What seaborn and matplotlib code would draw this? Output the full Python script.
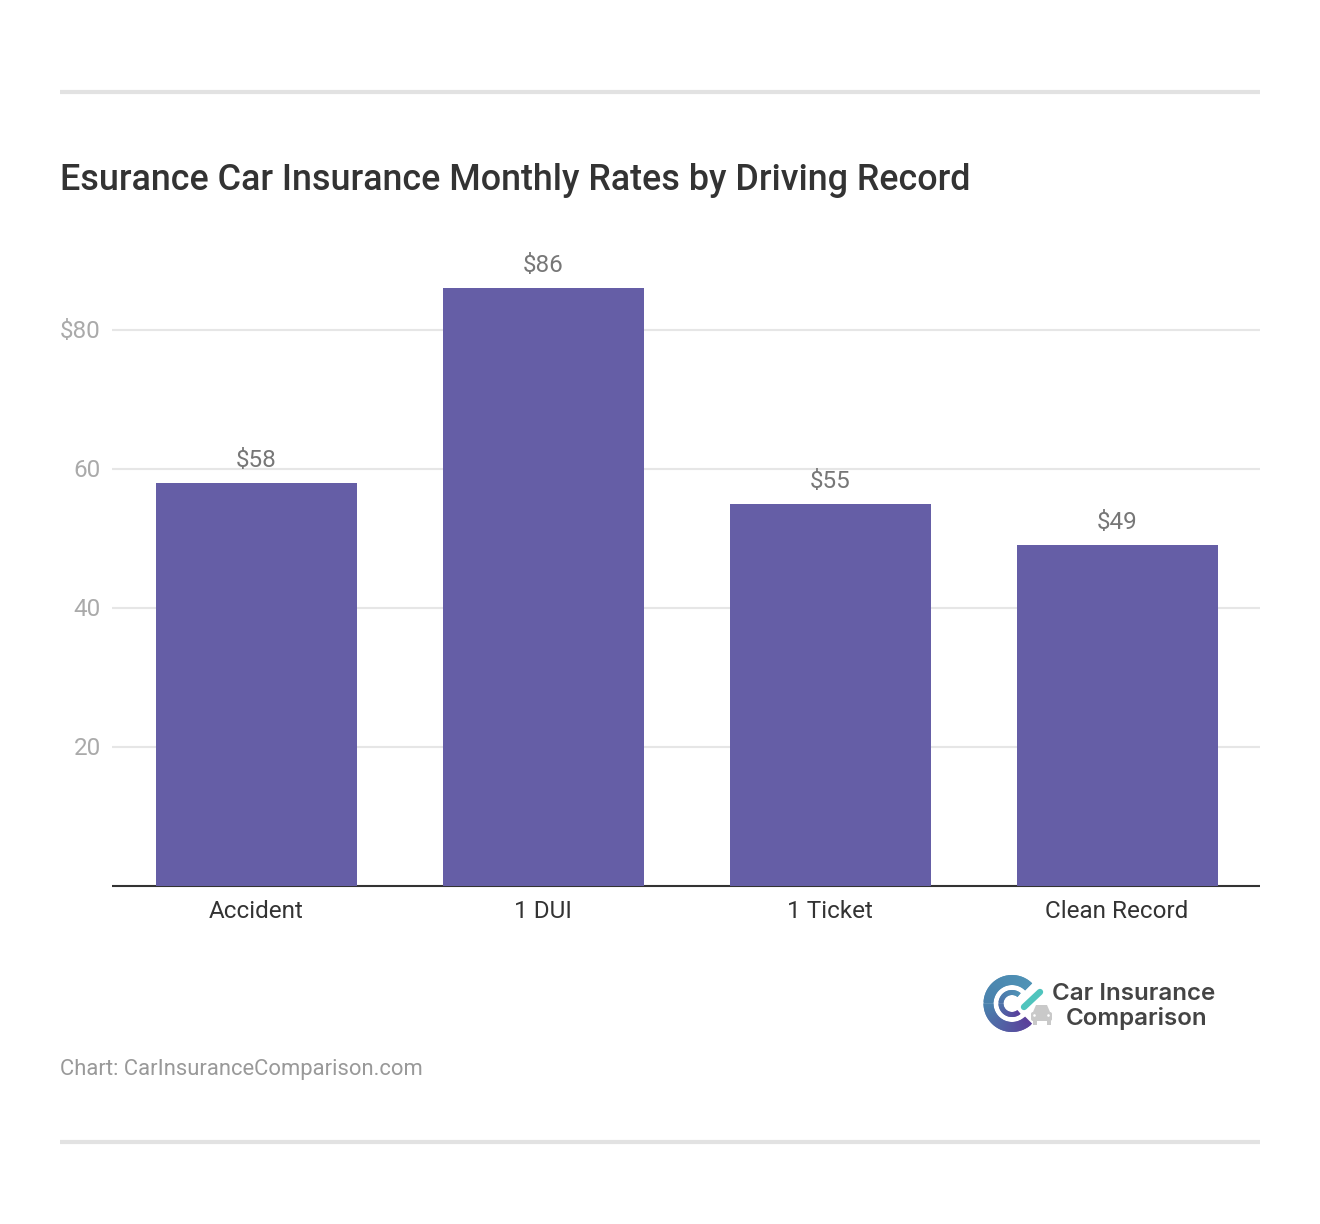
import matplotlib
matplotlib.use('Agg')
import matplotlib.pyplot as plt
from matplotlib.colors import to_rgb
from matplotlib.patches import Wedge, Rectangle, Polygon, Circle, FancyBboxPatch
from matplotlib.transforms import ScaledTranslation
import pandas as pd
import seaborn as sns

# ================= DATOS =================
categorias = ['Accident', '1 DUI', '1 Ticket', 'Clean Record']
tarifas = [58, 86, 55, 49]
marcas_y = [20, 40, 60, 80]
etiquetas_y = ['20', '40', '60', '$80']

W, H = 1320, 1224
BAR = '#655ea6'

sns.set_style('white')
plt.rcParams['font.family'] = ['Roboto', 'DejaVu Sans']

df = pd.DataFrame({'categoria': categorias, 'tarifa': tarifas})

fig = plt.figure(figsize=(W / 100, H / 100), dpi=100, facecolor='white')

# area del grafico en pixeles: x 112-1260, y 886 (base) hasta 260 (tope)
ax = fig.add_axes([112 / W, 1 - 886 / H, (1260 - 112) / W, (886 - 260) / H])
y_max = (886 - 260) / ((886 - 330) / 80)

sns.barplot(data=df, x='categoria', y='tarifa', color=BAR, saturation=1,
            width=0.7, linewidth=0, ax=ax, zorder=3)
ax.set_ylim(0, y_max)
ax.set_xlim(-0.502, 3.498)
ax.set_xlabel('')
ax.set_ylabel('')

ax.set_yticks(marcas_y)
ax.set_yticklabels(etiquetas_y)
ax.tick_params(axis='y', length=0, pad=8, labelsize=17.5, labelcolor='#aaaaaa')
ax.tick_params(axis='x', length=0, pad=10, labelsize=17.5, labelcolor='#333333')
ax.grid(axis='y', color='#e6e6e6', linewidth=1.5, zorder=0)
ax.set_axisbelow(True)
for s in ['top', 'left', 'right']:
    ax.spines[s].set_visible(False)
ax.spines['bottom'].set_color('#333333')
ax.spines['bottom'].set_linewidth(1.5)
ax.spines['bottom'].set_capstyle('butt')

# subir un pixel las etiquetas del eje y
for t in ax.get_yticklabels():
    t.set_transform(t.get_transform() + ScaledTranslation(0, 1 / 100, fig.dpi_scale_trans))

# valores encima de cada barra
for i, v in enumerate(tarifas):
    ax.annotate(f'${v}', (i, v), xytext=(0, 11), textcoords='offset pixels',
                ha='center', va='bottom', fontsize=17.5, color='#777777')

# lineas superior e inferior
for y in [92, 1142]:
    fig.add_artist(plt.Line2D([60 / W, 1260 / W], [1 - y / H, 1 - y / H],
                              color='#e2e2e2', linewidth=3, solid_capstyle='butt'))

fig.text(60 / W, 1 - 181 / H, 'Esurance Car Insurance Monthly Rates by Driving Record',
         fontsize=25.85, fontweight='medium', color='#333333', va='center', ha='left')
fig.text(60 / W, 1 - 1069 / H, 'Chart: CarInsuranceComparison.com',
         fontsize=15.85, color='#999999', va='center', ha='left')

# ================= LOGO =================
logo = fig.add_axes([0, 0, 1, 1], facecolor='none')
logo.set_xlim(0, W)
logo.set_ylim(H, 0)
logo.axis('off')


def anillo(cx, cy, r, ancho, a_ini, a_fin, c1, c2, pasos=40):
    # anillo con degradado de c1 a c2; el eje y esta invertido
    c1, c2 = to_rgb(c1), to_rgb(c2)
    paso = (a_fin - a_ini) / pasos
    for k in range(pasos):
        f = k / (pasos - 1)
        col = tuple(a + (b - a) * f for a, b in zip(c1, c2))
        fin = min(a_ini + (k + 2) * paso, a_fin)
        logo.add_patch(Wedge((cx, cy), r, a_ini + k * paso, fin,
                             width=ancho, color=col, linewidth=0))


anillo(1012, 1003.5, 28.5, 10, 45, 180, '#5b3f9b', '#4a82ad')
anillo(1012, 1003.5, 28.5, 10, 180, 315, '#4a82ad', '#4f93b6')
anillo(1012, 1003.5, 13.5, 5, 50, 180, '#5a3f9c', '#4d72a8', pasos=25)
anillo(1012, 1003.5, 13.5, 5, 180, 310, '#4d72a8', '#4f93b6', pasos=25)

logo.plot([1024, 1040], [1007, 992], color='#4fc4bd', linewidth=4.6,
          solid_capstyle='round')

# coche gris
logo.add_patch(Polygon([[1033, 1012], [1036, 1005], [1047, 1005], [1050, 1012]],
                       closed=True, color='#c9c9c9', linewidth=0))
logo.add_patch(FancyBboxPatch((1031, 1012), 21, 9, boxstyle='round,pad=0,rounding_size=2',
                              color='#c9c9c9', linewidth=0))
logo.add_patch(Rectangle((1033, 1020), 4, 5, color='#c9c9c9', linewidth=0))
logo.add_patch(Rectangle((1047, 1020), 4, 5, color='#c9c9c9', linewidth=0))
logo.add_patch(Circle((1034.5, 1015.5), 1.3, color='white', linewidth=0))
logo.add_patch(Circle((1048.5, 1015.5), 1.3, color='white', linewidth=0))

logo.text(1134, 994, 'Car Insurance', family='Inter', fontsize=17.4, fontweight='semibold',
          color='#444444', ha='center', va='center')
logo.text(1137, 1018, 'Comparison', family='Inter', fontsize=17.4, fontweight='semibold',
          color='#444444', ha='center', va='center')

fig.savefig('out.png', dpi=100, facecolor='white')
